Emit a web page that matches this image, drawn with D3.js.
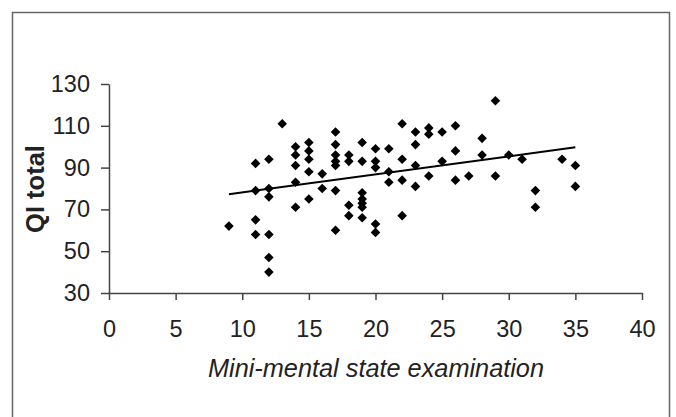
<!doctype html>
<html>
<head>
<meta charset="utf-8">
<script src="https://cdnjs.cloudflare.com/ajax/libs/d3/7.8.5/d3.min.js"></script>
<style>
  body { margin: 0; background: #fff; }
  text { font-family: "Liberation Sans", Arial, sans-serif; }
</style>
</head>
<body>
<svg width="676" height="417"></svg>
<script>
// MMSE score (x) and QI total (y) for each patient
var mmse = [9,
  11, 11, 11, 11,
  12, 12, 12, 12, 12, 12,
  13,
  14, 14, 14, 14, 14,
  15, 15, 15, 15, 15,
  16, 16,
  17, 17, 17, 17, 17, 17, 17,
  18, 18, 18, 18,
  19, 19, 19, 19, 19, 19, 19,
  20, 20, 20, 20, 20,
  21, 21, 21,
  22, 22, 22, 22,
  23, 23, 23, 23,
  24, 24, 24,
  25, 25,
  26, 26, 26,
  27,
  28, 28,
  29, 29,
  30, 31,
  32, 32,
  34,
  35, 35];
var qi = [62,
  92, 79, 65, 58,
  94, 80, 76, 58, 47, 40,
  111,
  100, 96, 91, 83, 71,
  102, 98, 94, 88, 75,
  87, 80,
  107, 101, 96, 93, 91, 79, 60,
  96, 93, 72, 67,
  102, 93, 78, 75, 73, 71, 66,
  99, 93, 90, 63, 59,
  99, 88, 83,
  111, 94, 84, 67,
  107, 101, 91, 81,
  109, 106, 86,
  107, 93,
  110, 98, 84,
  86,
  104, 96,
  122, 86,
  96, 94,
  79, 71,
  94,
  91, 81];

// trend line end points
var trendX = [9, 35];
var trendY = [77.3, 99.7];

var xTicks = [0, 5, 10, 15, 20, 25, 30, 35, 40];
var yTicks = [30, 50, 70, 90, 110, 130];

var svg = d3.select("svg");

svg.append("rect")
  .attr("x", 12.5).attr("y", 12.5)
  .attr("width", 657).attr("height", 420)
  .style("fill", "none")
  .style("stroke", "#666")
  .style("stroke-width", 1.5);

var x = d3.scaleLinear().domain([0, 40]).range([109, 642]);
var y = d3.scaleLinear().domain([30, 130]).range([293, 84]);

var xAxis = svg.append("g")
  .attr("transform", "translate(0,293)")
  .call(d3.axisBottom(x).tickValues(xTicks).tickSize(7).tickSizeOuter(0).tickPadding(20));

var yAxis = svg.append("g")
  .attr("transform", "translate(109,0)")
  .call(d3.axisLeft(y).tickValues(yTicks).tickSize(8).tickSizeOuter(0).tickPadding(11));

[xAxis, yAxis].forEach(g => {
  g.select(".domain").style("stroke", "#444").style("stroke-width", 1.5);
  g.selectAll(".tick line").style("stroke", "#444").style("stroke-width", 1.5);
  g.selectAll(".tick text")
    .style("font-size", "23.5px")
    .style("font-family", "'Liberation Sans', Arial, sans-serif")
    .style("fill", "#222");
});

svg.append("line")
  .attr("x1", x(trendX[0])).attr("y1", y(trendY[0]))
  .attr("x2", x(trendX[1])).attr("y2", y(trendY[1]))
  .style("stroke", "#000")
  .style("stroke-width", 2);

var diamond = "M0,-4.8L4.8,0L0,4.8L-4.8,0Z";
svg.selectAll("path.pt")
  .data(mmse)
  .enter()
  .append("path")
  .attr("class", "pt")
  .attr("d", diamond)
  .attr("transform", (d, i) => "translate(" + x(d) + "," + y(qi[i]) + ")")
  .style("fill", "#000");

svg.append("text")
  .attr("x", 376).attr("y", 377)
  .attr("text-anchor", "middle")
  .style("font-size", "25.3px")
  .style("font-style", "italic")
  .style("fill", "#222")
  .text("Mini-mental state examination");

svg.append("text")
  .attr("transform", "translate(44,189) rotate(-90)")
  .attr("text-anchor", "middle")
  .style("font-size", "25.5px")
  .style("font-weight", "bold")
  .style("fill", "#222")
  .text("QI total");
</script>
</body>
</html>
